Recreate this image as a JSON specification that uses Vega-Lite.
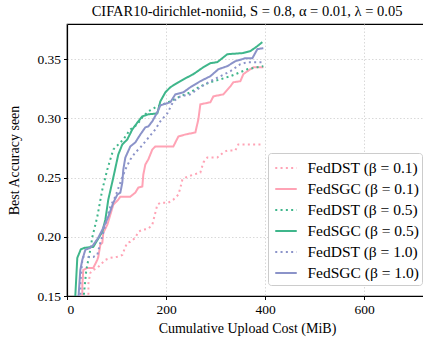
{
  "$schema": "https://vega.github.io/schema/vega-lite/v6.json",
  "autosize": {"type": "none"},
  "padding": {"left": 67, "top": 24, "right": 0, "bottom": 47},
  "width": 360,
  "height": 272,
  "background": "white",
  "title": {"text": "CIFAR10-dirichlet-noniid, S = 0.8, α = 0.01, λ = 0.05", "font": "Liberation Serif", "fontSize": 14.5, "fontWeight": "normal", "color": "black", "anchor": "middle", "offset": 5},
  "config": {
    "font": "Liberation Serif",
    "view": {"stroke": "black", "strokeWidth": 1.2},
    "axis": {"domainColor": "black", "domainWidth": 1.2, "tickColor": "black", "tickSize": 3.5, "tickWidth": 1, "labelFont": "Liberation Serif", "labelFontSize": 13.5, "labelColor": "black", "titleFont": "Liberation Serif", "titleFontSize": 14, "titleFontWeight": "normal", "titleColor": "black", "gridColor": "#d9d9d9", "gridDash": [1.5, 2], "gridWidth": 1}
  },
  "data": {"values": [
    {"s": "FedDST (β = 0.1)", "i": 0, "x": 43.2, "y": 0.1466},
    {"s": "FedDST (β = 0.1)", "i": 1, "x": 43.3, "y": 0.161},
    {"s": "FedDST (β = 0.1)", "i": 2, "x": 47.1, "y": 0.1695},
    {"s": "FedDST (β = 0.1)", "i": 3, "x": 53.1, "y": 0.172},
    {"s": "FedDST (β = 0.1)", "i": 4, "x": 61.2, "y": 0.1737},
    {"s": "FedDST (β = 0.1)", "i": 5, "x": 67.3, "y": 0.1763},
    {"s": "FedDST (β = 0.1)", "i": 6, "x": 77.4, "y": 0.1805},
    {"s": "FedDST (β = 0.1)", "i": 7, "x": 87.5, "y": 0.1822},
    {"s": "FedDST (β = 0.1)", "i": 8, "x": 101.6, "y": 0.1831},
    {"s": "FedDST (β = 0.1)", "i": 9, "x": 111.7, "y": 0.1847},
    {"s": "FedDST (β = 0.1)", "i": 10, "x": 117.8, "y": 0.1915},
    {"s": "FedDST (β = 0.1)", "i": 11, "x": 121.8, "y": 0.1949},
    {"s": "FedDST (β = 0.1)", "i": 12, "x": 127.9, "y": 0.1958},
    {"s": "FedDST (β = 0.1)", "i": 13, "x": 138, "y": 0.1992},
    {"s": "FedDST (β = 0.1)", "i": 14, "x": 144, "y": 0.2042},
    {"s": "FedDST (β = 0.1)", "i": 15, "x": 152.1, "y": 0.2059},
    {"s": "FedDST (β = 0.1)", "i": 16, "x": 164.2, "y": 0.2068},
    {"s": "FedDST (β = 0.1)", "i": 17, "x": 172.3, "y": 0.2102},
    {"s": "FedDST (β = 0.1)", "i": 18, "x": 178.4, "y": 0.2203},
    {"s": "FedDST (β = 0.1)", "i": 19, "x": 182.4, "y": 0.2271},
    {"s": "FedDST (β = 0.1)", "i": 20, "x": 188.5, "y": 0.2288},
    {"s": "FedDST (β = 0.1)", "i": 21, "x": 204.6, "y": 0.2288},
    {"s": "FedDST (β = 0.1)", "i": 22, "x": 214.8, "y": 0.2314},
    {"s": "FedDST (β = 0.1)", "i": 23, "x": 224.9, "y": 0.2356},
    {"s": "FedDST (β = 0.1)", "i": 24, "x": 229, "y": 0.2415},
    {"s": "FedDST (β = 0.1)", "i": 25, "x": 233, "y": 0.2483},
    {"s": "FedDST (β = 0.1)", "i": 26, "x": 239, "y": 0.25},
    {"s": "FedDST (β = 0.1)", "i": 27, "x": 255.1, "y": 0.2525},
    {"s": "FedDST (β = 0.1)", "i": 28, "x": 269.3, "y": 0.2542},
    {"s": "FedDST (β = 0.1)", "i": 29, "x": 275.3, "y": 0.2627},
    {"s": "FedDST (β = 0.1)", "i": 30, "x": 283.4, "y": 0.2669},
    {"s": "FedDST (β = 0.1)", "i": 31, "x": 303.6, "y": 0.2669},
    {"s": "FedDST (β = 0.1)", "i": 32, "x": 315.8, "y": 0.2712},
    {"s": "FedDST (β = 0.1)", "i": 33, "x": 323.8, "y": 0.2729},
    {"s": "FedDST (β = 0.1)", "i": 34, "x": 340, "y": 0.2729},
    {"s": "FedDST (β = 0.1)", "i": 35, "x": 346, "y": 0.278},
    {"s": "FedDST (β = 0.1)", "i": 36, "x": 396.5, "y": 0.278},

    {"s": "FedSGC (β = 0.1)", "i": 0, "x": 30.9, "y": 0.1466},
    {"s": "FedSGC (β = 0.1)", "i": 1, "x": 31.0, "y": 0.1593},
    {"s": "FedSGC (β = 0.1)", "i": 2, "x": 32.9, "y": 0.172},
    {"s": "FedSGC (β = 0.1)", "i": 3, "x": 41, "y": 0.1737},
    {"s": "FedSGC (β = 0.1)", "i": 4, "x": 53.1, "y": 0.1737},
    {"s": "FedSGC (β = 0.1)", "i": 5, "x": 61.2, "y": 0.1805},
    {"s": "FedSGC (β = 0.1)", "i": 6, "x": 63.2, "y": 0.183},
    {"s": "FedSGC (β = 0.1)", "i": 7, "x": 67.3, "y": 0.1932},
    {"s": "FedSGC (β = 0.1)", "i": 8, "x": 71.3, "y": 0.1949},
    {"s": "FedSGC (β = 0.1)", "i": 9, "x": 73.3, "y": 0.2034},
    {"s": "FedSGC (β = 0.1)", "i": 10, "x": 81.4, "y": 0.2102},
    {"s": "FedSGC (β = 0.1)", "i": 11, "x": 87.5, "y": 0.2186},
    {"s": "FedSGC (β = 0.1)", "i": 12, "x": 93.5, "y": 0.2271},
    {"s": "FedSGC (β = 0.1)", "i": 13, "x": 103.6, "y": 0.2314},
    {"s": "FedSGC (β = 0.1)", "i": 14, "x": 107.7, "y": 0.2339},
    {"s": "FedSGC (β = 0.1)", "i": 15, "x": 127.9, "y": 0.2339},
    {"s": "FedSGC (β = 0.1)", "i": 16, "x": 138, "y": 0.2373},
    {"s": "FedSGC (β = 0.1)", "i": 17, "x": 144, "y": 0.2415},
    {"s": "FedSGC (β = 0.1)", "i": 18, "x": 152.1, "y": 0.2424},
    {"s": "FedSGC (β = 0.1)", "i": 19, "x": 154.1, "y": 0.2525},
    {"s": "FedSGC (β = 0.1)", "i": 20, "x": 158.2, "y": 0.261},
    {"s": "FedSGC (β = 0.1)", "i": 21, "x": 164.2, "y": 0.2653},
    {"s": "FedSGC (β = 0.1)", "i": 22, "x": 172.3, "y": 0.2737},
    {"s": "FedSGC (β = 0.1)", "i": 23, "x": 178.4, "y": 0.2763},
    {"s": "FedSGC (β = 0.1)", "i": 24, "x": 214.8, "y": 0.2763},
    {"s": "FedSGC (β = 0.1)", "i": 25, "x": 224.9, "y": 0.2847},
    {"s": "FedSGC (β = 0.1)", "i": 26, "x": 239, "y": 0.2864},
    {"s": "FedSGC (β = 0.1)", "i": 27, "x": 259.2, "y": 0.2881},
    {"s": "FedSGC (β = 0.1)", "i": 28, "x": 265.3, "y": 0.2992},
    {"s": "FedSGC (β = 0.1)", "i": 29, "x": 269.3, "y": 0.3119},
    {"s": "FedSGC (β = 0.1)", "i": 30, "x": 289.5, "y": 0.3136},
    {"s": "FedSGC (β = 0.1)", "i": 31, "x": 295.6, "y": 0.3186},
    {"s": "FedSGC (β = 0.1)", "i": 32, "x": 315.8, "y": 0.3203},
    {"s": "FedSGC (β = 0.1)", "i": 33, "x": 329.9, "y": 0.3271},
    {"s": "FedSGC (β = 0.1)", "i": 34, "x": 336, "y": 0.3305},
    {"s": "FedSGC (β = 0.1)", "i": 35, "x": 350.1, "y": 0.3314},
    {"s": "FedSGC (β = 0.1)", "i": 36, "x": 356.1, "y": 0.3373},
    {"s": "FedSGC (β = 0.1)", "i": 37, "x": 364.2, "y": 0.3398},
    {"s": "FedSGC (β = 0.1)", "i": 38, "x": 376.4, "y": 0.3432},
    {"s": "FedSGC (β = 0.1)", "i": 39, "x": 396.5, "y": 0.3432},

    {"s": "FedDST (β = 0.5)", "i": 0, "x": 33, "y": 0.1466},
    {"s": "FedDST (β = 0.5)", "i": 1, "x": 35, "y": 0.155},
    {"s": "FedDST (β = 0.5)", "i": 2, "x": 39, "y": 0.172},
    {"s": "FedDST (β = 0.5)", "i": 3, "x": 47, "y": 0.189},
    {"s": "FedDST (β = 0.5)", "i": 4, "x": 51.3, "y": 0.2},
    {"s": "FedDST (β = 0.5)", "i": 5, "x": 61.2, "y": 0.217},
    {"s": "FedDST (β = 0.5)", "i": 6, "x": 71.3, "y": 0.2398},
    {"s": "FedDST (β = 0.5)", "i": 7, "x": 81.4, "y": 0.2568},
    {"s": "FedDST (β = 0.5)", "i": 8, "x": 93.5, "y": 0.2737},
    {"s": "FedDST (β = 0.5)", "i": 9, "x": 113.7, "y": 0.2822},
    {"s": "FedDST (β = 0.5)", "i": 10, "x": 127.9, "y": 0.2907},
    {"s": "FedDST (β = 0.5)", "i": 11, "x": 142, "y": 0.2949},
    {"s": "FedDST (β = 0.5)", "i": 12, "x": 152.1, "y": 0.3008},
    {"s": "FedDST (β = 0.5)", "i": 13, "x": 164.2, "y": 0.3059},
    {"s": "FedDST (β = 0.5)", "i": 14, "x": 182.4, "y": 0.3102},
    {"s": "FedDST (β = 0.5)", "i": 15, "x": 194.5, "y": 0.3119},
    {"s": "FedDST (β = 0.5)", "i": 16, "x": 208.7, "y": 0.3144},
    {"s": "FedDST (β = 0.5)", "i": 17, "x": 228.9, "y": 0.3186},
    {"s": "FedDST (β = 0.5)", "i": 18, "x": 249.1, "y": 0.322},
    {"s": "FedDST (β = 0.5)", "i": 19, "x": 269.3, "y": 0.3271},
    {"s": "FedDST (β = 0.5)", "i": 20, "x": 289.5, "y": 0.3305},
    {"s": "FedDST (β = 0.5)", "i": 21, "x": 309.7, "y": 0.333},
    {"s": "FedDST (β = 0.5)", "i": 22, "x": 329.9, "y": 0.3356},
    {"s": "FedDST (β = 0.5)", "i": 23, "x": 350.1, "y": 0.339},
    {"s": "FedDST (β = 0.5)", "i": 24, "x": 364.2, "y": 0.3415},
    {"s": "FedDST (β = 0.5)", "i": 25, "x": 384.4, "y": 0.3432},
    {"s": "FedDST (β = 0.5)", "i": 26, "x": 396.5, "y": 0.344},

    {"s": "FedSGC (β = 0.5)", "i": 0, "x": 16.8, "y": 0.1466},
    {"s": "FedSGC (β = 0.5)", "i": 1, "x": 16.9, "y": 0.1508},
    {"s": "FedSGC (β = 0.5)", "i": 2, "x": 20.8, "y": 0.1822},
    {"s": "FedSGC (β = 0.5)", "i": 3, "x": 28, "y": 0.1895},
    {"s": "FedSGC (β = 0.5)", "i": 4, "x": 36, "y": 0.1907},
    {"s": "FedSGC (β = 0.5)", "i": 5, "x": 53.1, "y": 0.1915},
    {"s": "FedSGC (β = 0.5)", "i": 6, "x": 71.3, "y": 0.2042},
    {"s": "FedSGC (β = 0.5)", "i": 7, "x": 77.4, "y": 0.2144},
    {"s": "FedSGC (β = 0.5)", "i": 8, "x": 83.4, "y": 0.2314},
    {"s": "FedSGC (β = 0.5)", "i": 9, "x": 93.5, "y": 0.25},
    {"s": "FedSGC (β = 0.5)", "i": 10, "x": 103.6, "y": 0.2695},
    {"s": "FedSGC (β = 0.5)", "i": 11, "x": 111.7, "y": 0.278},
    {"s": "FedSGC (β = 0.5)", "i": 12, "x": 121.8, "y": 0.2822},
    {"s": "FedSGC (β = 0.5)", "i": 13, "x": 131.9, "y": 0.2907},
    {"s": "FedSGC (β = 0.5)", "i": 14, "x": 144, "y": 0.2975},
    {"s": "FedSGC (β = 0.5)", "i": 15, "x": 152.1, "y": 0.3017},
    {"s": "FedSGC (β = 0.5)", "i": 16, "x": 164.2, "y": 0.3034},
    {"s": "FedSGC (β = 0.5)", "i": 17, "x": 182.4, "y": 0.3042},
    {"s": "FedSGC (β = 0.5)", "i": 18, "x": 188.5, "y": 0.3144},
    {"s": "FedSGC (β = 0.5)", "i": 19, "x": 198.6, "y": 0.322},
    {"s": "FedSGC (β = 0.5)", "i": 20, "x": 208.7, "y": 0.3263},
    {"s": "FedSGC (β = 0.5)", "i": 21, "x": 224.8, "y": 0.3305},
    {"s": "FedSGC (β = 0.5)", "i": 22, "x": 243, "y": 0.3347},
    {"s": "FedSGC (β = 0.5)", "i": 23, "x": 255.1, "y": 0.3373},
    {"s": "FedSGC (β = 0.5)", "i": 24, "x": 275.3, "y": 0.3432},
    {"s": "FedSGC (β = 0.5)", "i": 25, "x": 289.5, "y": 0.3466},
    {"s": "FedSGC (β = 0.5)", "i": 26, "x": 303.6, "y": 0.3475},
    {"s": "FedSGC (β = 0.5)", "i": 27, "x": 323.8, "y": 0.3542},
    {"s": "FedSGC (β = 0.5)", "i": 28, "x": 354.1, "y": 0.3551},
    {"s": "FedSGC (β = 0.5)", "i": 29, "x": 370.3, "y": 0.3568},
    {"s": "FedSGC (β = 0.5)", "i": 30, "x": 384.4, "y": 0.361},
    {"s": "FedSGC (β = 0.5)", "i": 31, "x": 394.5, "y": 0.3644},

    {"s": "FedDST (β = 1.0)", "i": 0, "x": 26.9, "y": 0.1466},
    {"s": "FedDST (β = 1.0)", "i": 1, "x": 27.0, "y": 0.161},
    {"s": "FedDST (β = 1.0)", "i": 2, "x": 30.9, "y": 0.1805},
    {"s": "FedDST (β = 1.0)", "i": 3, "x": 32.9, "y": 0.183},
    {"s": "FedDST (β = 1.0)", "i": 4, "x": 53.1, "y": 0.183},
    {"s": "FedDST (β = 1.0)", "i": 5, "x": 61.2, "y": 0.1847},
    {"s": "FedDST (β = 1.0)", "i": 6, "x": 67.3, "y": 0.1949},
    {"s": "FedDST (β = 1.0)", "i": 7, "x": 73.3, "y": 0.2034},
    {"s": "FedDST (β = 1.0)", "i": 8, "x": 81.4, "y": 0.2169},
    {"s": "FedDST (β = 1.0)", "i": 9, "x": 87.5, "y": 0.2254},
    {"s": "FedDST (β = 1.0)", "i": 10, "x": 97.6, "y": 0.2339},
    {"s": "FedDST (β = 1.0)", "i": 11, "x": 107.7, "y": 0.2458},
    {"s": "FedDST (β = 1.0)", "i": 12, "x": 117.8, "y": 0.2568},
    {"s": "FedDST (β = 1.0)", "i": 13, "x": 127.9, "y": 0.2653},
    {"s": "FedDST (β = 1.0)", "i": 14, "x": 138, "y": 0.2712},
    {"s": "FedDST (β = 1.0)", "i": 15, "x": 148.1, "y": 0.2754},
    {"s": "FedDST (β = 1.0)", "i": 16, "x": 158.2, "y": 0.2805},
    {"s": "FedDST (β = 1.0)", "i": 17, "x": 168.3, "y": 0.2856},
    {"s": "FedDST (β = 1.0)", "i": 18, "x": 178.4, "y": 0.2907},
    {"s": "FedDST (β = 1.0)", "i": 19, "x": 188.5, "y": 0.2975},
    {"s": "FedDST (β = 1.0)", "i": 20, "x": 202.6, "y": 0.3042},
    {"s": "FedDST (β = 1.0)", "i": 21, "x": 214.8, "y": 0.3144},
    {"s": "FedDST (β = 1.0)", "i": 22, "x": 228.9, "y": 0.3186},
    {"s": "FedDST (β = 1.0)", "i": 23, "x": 249.1, "y": 0.3203},
    {"s": "FedDST (β = 1.0)", "i": 24, "x": 269.3, "y": 0.3263},
    {"s": "FedDST (β = 1.0)", "i": 25, "x": 289.5, "y": 0.3314},
    {"s": "FedDST (β = 1.0)", "i": 26, "x": 309.7, "y": 0.3356},
    {"s": "FedDST (β = 1.0)", "i": 27, "x": 329.9, "y": 0.3398},
    {"s": "FedDST (β = 1.0)", "i": 28, "x": 350.1, "y": 0.3458},
    {"s": "FedDST (β = 1.0)", "i": 29, "x": 364.2, "y": 0.3475},
    {"s": "FedDST (β = 1.0)", "i": 30, "x": 396.5, "y": 0.3475},

    {"s": "FedSGC (β = 1.0)", "i": 0, "x": 22.8, "y": 0.1466},
    {"s": "FedSGC (β = 1.0)", "i": 1, "x": 26.9, "y": 0.172},
    {"s": "FedSGC (β = 1.0)", "i": 2, "x": 30.9, "y": 0.1805},
    {"s": "FedSGC (β = 1.0)", "i": 3, "x": 37, "y": 0.189},
    {"s": "FedSGC (β = 1.0)", "i": 4, "x": 47, "y": 0.1907},
    {"s": "FedSGC (β = 1.0)", "i": 5, "x": 53.1, "y": 0.1932},
    {"s": "FedSGC (β = 1.0)", "i": 6, "x": 63.2, "y": 0.1992},
    {"s": "FedSGC (β = 1.0)", "i": 7, "x": 73.3, "y": 0.2076},
    {"s": "FedSGC (β = 1.0)", "i": 8, "x": 83.4, "y": 0.2169},
    {"s": "FedSGC (β = 1.0)", "i": 9, "x": 93.5, "y": 0.2288},
    {"s": "FedSGC (β = 1.0)", "i": 10, "x": 101.6, "y": 0.2356},
    {"s": "FedSGC (β = 1.0)", "i": 11, "x": 107.7, "y": 0.2373},
    {"s": "FedSGC (β = 1.0)", "i": 12, "x": 111.7, "y": 0.2458},
    {"s": "FedSGC (β = 1.0)", "i": 13, "x": 113.7, "y": 0.2568},
    {"s": "FedSGC (β = 1.0)", "i": 14, "x": 117.8, "y": 0.2669},
    {"s": "FedSGC (β = 1.0)", "i": 15, "x": 127.9, "y": 0.2763},
    {"s": "FedSGC (β = 1.0)", "i": 16, "x": 138, "y": 0.2797},
    {"s": "FedSGC (β = 1.0)", "i": 17, "x": 148.1, "y": 0.2864},
    {"s": "FedSGC (β = 1.0)", "i": 18, "x": 158.2, "y": 0.2924},
    {"s": "FedSGC (β = 1.0)", "i": 19, "x": 164.2, "y": 0.2932},
    {"s": "FedSGC (β = 1.0)", "i": 20, "x": 172.3, "y": 0.2975},
    {"s": "FedSGC (β = 1.0)", "i": 21, "x": 182.4, "y": 0.3051},
    {"s": "FedSGC (β = 1.0)", "i": 22, "x": 188.5, "y": 0.311},
    {"s": "FedSGC (β = 1.0)", "i": 23, "x": 208.7, "y": 0.3136},
    {"s": "FedSGC (β = 1.0)", "i": 24, "x": 218.8, "y": 0.3203},
    {"s": "FedSGC (β = 1.0)", "i": 25, "x": 235, "y": 0.322},
    {"s": "FedSGC (β = 1.0)", "i": 26, "x": 249.1, "y": 0.3263},
    {"s": "FedSGC (β = 1.0)", "i": 27, "x": 269.3, "y": 0.3314},
    {"s": "FedSGC (β = 1.0)", "i": 28, "x": 289.5, "y": 0.3356},
    {"s": "FedSGC (β = 1.0)", "i": 29, "x": 305.7, "y": 0.3415},
    {"s": "FedSGC (β = 1.0)", "i": 30, "x": 323.8, "y": 0.3441},
    {"s": "FedSGC (β = 1.0)", "i": 31, "x": 340, "y": 0.3483},
    {"s": "FedSGC (β = 1.0)", "i": 32, "x": 360.2, "y": 0.3508},
    {"s": "FedSGC (β = 1.0)", "i": 33, "x": 374.4, "y": 0.3508},
    {"s": "FedSGC (β = 1.0)", "i": 34, "x": 384.4, "y": 0.3585},
    {"s": "FedSGC (β = 1.0)", "i": 35, "x": 396.5, "y": 0.3593}
  ]},
  "mark": {"type": "line", "clip": true, "strokeWidth": 2, "strokeCap": "butt"},
  "encoding": {
    "x": {"field": "x", "type": "quantitative", "title": "Cumulative Upload Cost (MiB)", "scale": {"domain": [0, 727], "nice": false, "zero": false}, "axis": {"values": [0, 200, 400, 600], "format": "d", "grid": true, "labelFont": "Liberation Serif", "titleFont": "Liberation Serif", "labelPadding": 3, "titlePadding": 5}},
    "y": {"field": "y", "type": "quantitative", "title": "Best Accuracy seen", "scale": {"domain": [0.15, 0.3797], "nice": false, "zero": false}, "axis": {"values": [0.15, 0.2, 0.25, 0.3, 0.35], "format": ".2f", "grid": true, "labelFont": "Liberation Serif", "titleFont": "Liberation Serif", "labelPadding": 3, "titlePadding": 15}},
    "color": {"field": "s", "type": "nominal", "sort": ["FedDST (β = 0.1)", "FedSGC (β = 0.1)", "FedDST (β = 0.5)", "FedSGC (β = 0.5)", "FedDST (β = 1.0)", "FedSGC (β = 1.0)"],
      "scale": {"domain": ["FedDST (β = 0.1)", "FedSGC (β = 0.1)", "FedDST (β = 0.5)", "FedSGC (β = 0.5)", "FedDST (β = 1.0)", "FedSGC (β = 1.0)"], "range": ["#ffa3b5", "#ffa3b5", "#3fb68b", "#3fb68b", "#8b93c9", "#8b93c9"]},
      "legend": {"title": null, "orient": "none", "legendX": 201, "legendY": 129, "symbolType": "stroke", "symbolSize": 462, "symbolStrokeWidth": 2, "symbolOffset": 3, "labelFont": "Liberation Serif", "labelFontSize": 15.5, "labelColor": "black", "fillColor": "white", "strokeColor": "#cccccc", "cornerRadius": 3, "padding": 3, "rowPadding": 0, "labelOffset": 9.5, "labelLimit": 200}},
    "strokeDash": {"field": "s", "type": "nominal", "sort": ["FedDST (β = 0.1)", "FedSGC (β = 0.1)", "FedDST (β = 0.5)", "FedSGC (β = 0.5)", "FedDST (β = 1.0)", "FedSGC (β = 1.0)"],
      "scale": {"domain": ["FedDST (β = 0.1)", "FedSGC (β = 0.1)", "FedDST (β = 0.5)", "FedSGC (β = 0.5)", "FedDST (β = 1.0)", "FedSGC (β = 1.0)"], "range": [[2, 3.3], [1, 0], [2, 3.3], [1, 0], [2, 3.3], [1, 0]]}},
    "order": {"field": "i", "type": "quantitative"}
  }
}
